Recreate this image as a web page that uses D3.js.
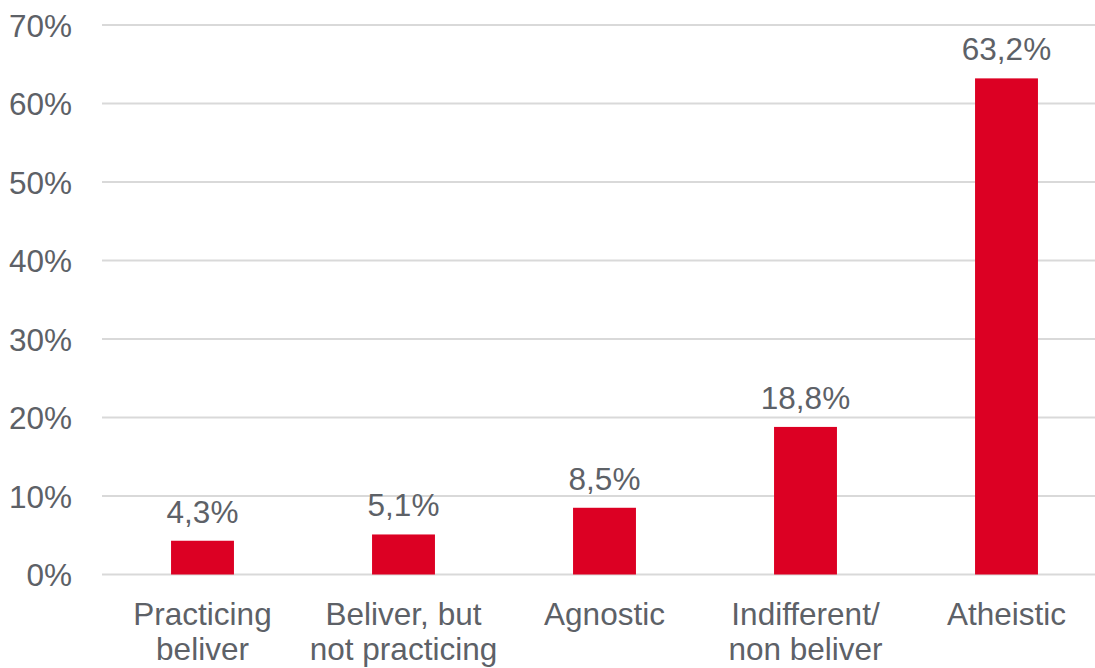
<!DOCTYPE html>
<html>
<head>
<meta charset="utf-8">
<script src="https://cdn.jsdelivr.net/npm/d3@7"></script>
<style>
body { margin: 0; background: #fff; }
svg { display: block; font-family: "Liberation Sans", Arial, sans-serif; }
</style>
</head>
<body>
<div id="chart"></div>
<script>
var categories = [["Practicing", "beliver"], ["Beliver, but", "not practicing"], ["Agnostic"], ["Indifferent/", "non beliver"], ["Atheistic"]]
var values = [4.3, 5.1, 8.5, 18.8, 63.2]
var valueLabels = ["4,3%", "5,1%", "8,5%", "18,8%", "63,2%"]
var yTicks = [0, 10, 20, 30, 40, 50, 60, 70]

var width = 1095, height = 668
var textColor = "#5d6167"
var fontSize = 31.5

var svg = d3.select("#chart").append("svg").attr("width", width).attr("height", height)

var x = d3.scaleBand().domain(d3.range(categories.length)).range([102, 1107]).paddingInner(0.687).paddingOuter(0.3435)
var y = d3.scaleLinear().domain([0, 70]).range([574.5, 25])

// gridlines
svg.append("g").selectAll("line").data(yTicks).enter()
	.append("line")
	.attr("x1", 102).attr("x2", 1107)
	.attr("y1", function(d){return y(d)})
	.attr("y2", function(d){return y(d)})
	.attr("stroke", "#d9d9d9")
	.attr("stroke-width", 2)

// y tick labels
svg.append("g").selectAll("text").data(yTicks).enter()
	.append("text")
	.attr("x", 72)
	.attr("y", function(d){return y(d) + 11.5})
	.attr("text-anchor", "end")
	.attr("font-size", fontSize)
	.attr("fill", textColor)
	.text(function(d){return d + "%"})

// bars
svg.append("g").selectAll("rect").data(values).enter()
	.append("rect")
	.attr("x", function(d, i){return x(i)})
	.attr("width", x.bandwidth())
	.attr("y", function(d){return y(d)})
	.attr("height", function(d){return y(0) - y(d)})
	.attr("fill", "#dc0023")

// value labels
svg.append("g").selectAll("text").data(values).enter()
	.append("text")
	.attr("x", function(d, i){return x(i) + x.bandwidth() / 2})
	.attr("y", function(d){return y(d) - 18})
	.attr("text-anchor", "middle")
	.attr("font-size", fontSize)
	.attr("fill", textColor)
	.text(function(d, i){return valueLabels[i]})

// category labels
var cat = svg.append("g").selectAll("text").data(categories).enter()
	.append("text")
	.attr("x", function(d, i){return x(i) + x.bandwidth() / 2})
	.attr("y", 625)
	.attr("text-anchor", "middle")
	.attr("font-size", fontSize)
	.attr("fill", textColor)

cat.selectAll("tspan").data(function(d){return d}).enter()
	.append("tspan")
	.attr("x", function(){return d3.select(this.parentNode).attr("x")})
	.attr("dy", function(d, i){return i == 0 ? 0 : 35})
	.text(function(d){return d})
</script>
</body>
</html>
